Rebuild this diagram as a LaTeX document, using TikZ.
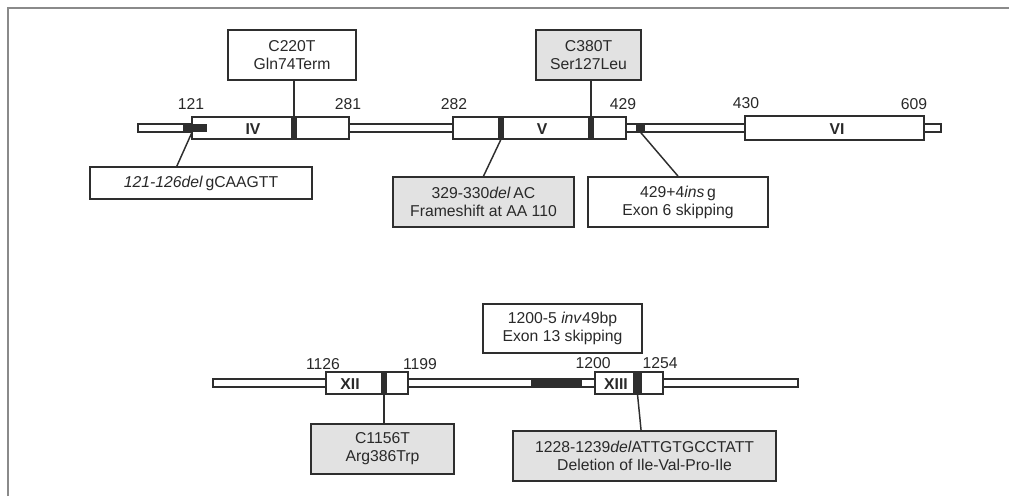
\documentclass[tikz,border=0pt]{standalone}
\usepackage{fontspec}
\setmainfont{Liberation Sans}
\usetikzlibrary{fit,calc}
\definecolor{ln}{HTML}{2E2E2E}
\definecolor{boxgray}{HTML}{E2E2E2}
\definecolor{framegray}{HTML}{8A8A8A}
\newcommand\myfs{\fontsize{11.8}{13.5}\selectfont}
\begin{document}
\begin{tikzpicture}[x=0.75pt,y=-0.75pt,
  intron/.style={draw=ln, fill=white, line width=1pt, inner sep=0pt},
  exon/.style={draw=ln, fill=white, line width=1.1pt, inner sep=0pt},
  mk/.style={fill=ln, draw=none, inner sep=0pt},
  mut/.style={draw=ln, line width=1.3pt, fill=white, inner sep=0pt},
  mutg/.style={mut, fill=boxgray},
  txt/.style={font=\myfs, align=center, inner sep=0pt, text=ln!90!black},
  num/.style={font=\myfs, inner sep=0pt, text=ln!90!black},
  exl/.style={font=\myfs\bfseries, inner sep=0pt, text=ln!90!black},
  conn/.style={draw=ln, line width=1.1pt}]
\useasboundingbox (0,0) rectangle (1009,496);
\draw[framegray, line width=1.5pt] (7.5,496) -- (7.5,7.5) -- (1009,7.5);

% ---------- top gene ----------
\node[intron, fit={(138,124) (941,132)}] (intA) {};
\node[exon, fit={(192,117) (349,139)}] (ex4) {};
\node[exon, fit={(453,117) (626,139)}] (ex5) {};
\node[exon, fit={(745,116) (924,140)}] (ex6) {};
\node[exl] at (253,129) {IV};
\node[exl] at (542,129) {V};
\node[exl] at (837,129) {VI};

\node[mk, fit={(183,124) (207,132)}] (m121) {};
\node[mk, fit={(291,117) (297,139)}] (m220) {};
\node[mk, fit={(498,117) (504,139)}] (m329) {};
\node[mk, fit={(588,117) (594,139)}] (m380) {};
\node[mk, fit={(636,124) (645,132)}] (m429) {};

\node[num] at (191,104) {121};
\node[num] at (348,104) {281};
\node[num] at (454,104) {282};
\node[num] at (623,104) {429};
\node[num] at (746,103) {430};
\node[num] at (914,104) {609};

\node[mut, fit={(228,30) (356,80)}] (c220) {};
\node[txt] at (c220.center) {C220T\\Gln74Term};
\node[mutg, fit={(536,30) (641,80)}] (c380) {};
\node[txt] at (c380.center) {C380T\\Ser127Leu};
\node[mut, fit={(90,167) (312,199)}] (d121) {};
\node[txt] at (d121.center) {\textit{121-126del}\,gCAAGTT};
\node[mutg, fit={(393,177) (574,227)}] (d329) {};
\node[txt] at (d329.center) {329-330\textit{del}\,AC\\Frameshift at AA 110};
\node[mut, fit={(588,177) (768,227)}] (i429) {};
\node[txt] at (i429.center) {429+4\textit{ins}\,g\\Exon 6 skipping};

\draw[conn] (m220.north |- c220.south) -- (m220.north);
\draw[conn] (m380.north |- c380.south) -- (m380.north);
\draw[conn] ($(m121.south)+(-3,0)$) -- ($(d121.north west)!0.392!(d121.north east)$);
\draw[conn] (m329.south) -- (d329.north);
\draw[conn] (m429.south) -- (i429.north);

% ---------- bottom gene ----------
\node[intron, fit={(213,379) (798,387)}] (intB) {};
\node[exon, fit={(326,372) (408,394)}] (ex12) {};
\node[exon, fit={(595,372) (663,394)}] (ex13) {};
\node[exl] at (350,384) {XII};
\node[exl] at (616,384) {XIII};

\node[mk, fit={(381,372) (387,394)}] (m1156) {};
\node[mk, fit={(531,378) (582,388)}] (minv) {};
\node[mk, fit={(633,372) (642,394)}] (m1228) {};

\node[num] at (323,364) {1126};
\node[num] at (420,364) {1199};
\node[num] at (593,363) {1200};
\node[num] at (660,363) {1254};

\node[mut, fit={(483,304) (642,353)}] (inv) {};
\node[txt] at (inv.center) {1200-5 \textit{inv}49bp\\Exon 13 skipping};
\node[mutg, fit={(311,424) (454,474)}] (c1156) {};
\node[txt] at (c1156.center) {C1156T\\Arg386Trp};
\node[mutg, fit={(513,431) (776,481)}] (d1228) {};
\node[txt] at (d1228.center) {1228-1239\textit{del}ATTGTGCCTATT\\Deletion of Ile-Val-Pro-Ile};

\draw[conn] ($(minv.north)+(1.5,0)$ |- inv.south) -- ($(minv.north)+(1.5,0)$);
\draw[conn] (m1156.south) -- (m1156.south |- c1156.north);
\draw[conn] (m1228.south) -- ($(d1228.north west)!0.487!(d1228.north east)$);
\end{tikzpicture}
\end{document}
